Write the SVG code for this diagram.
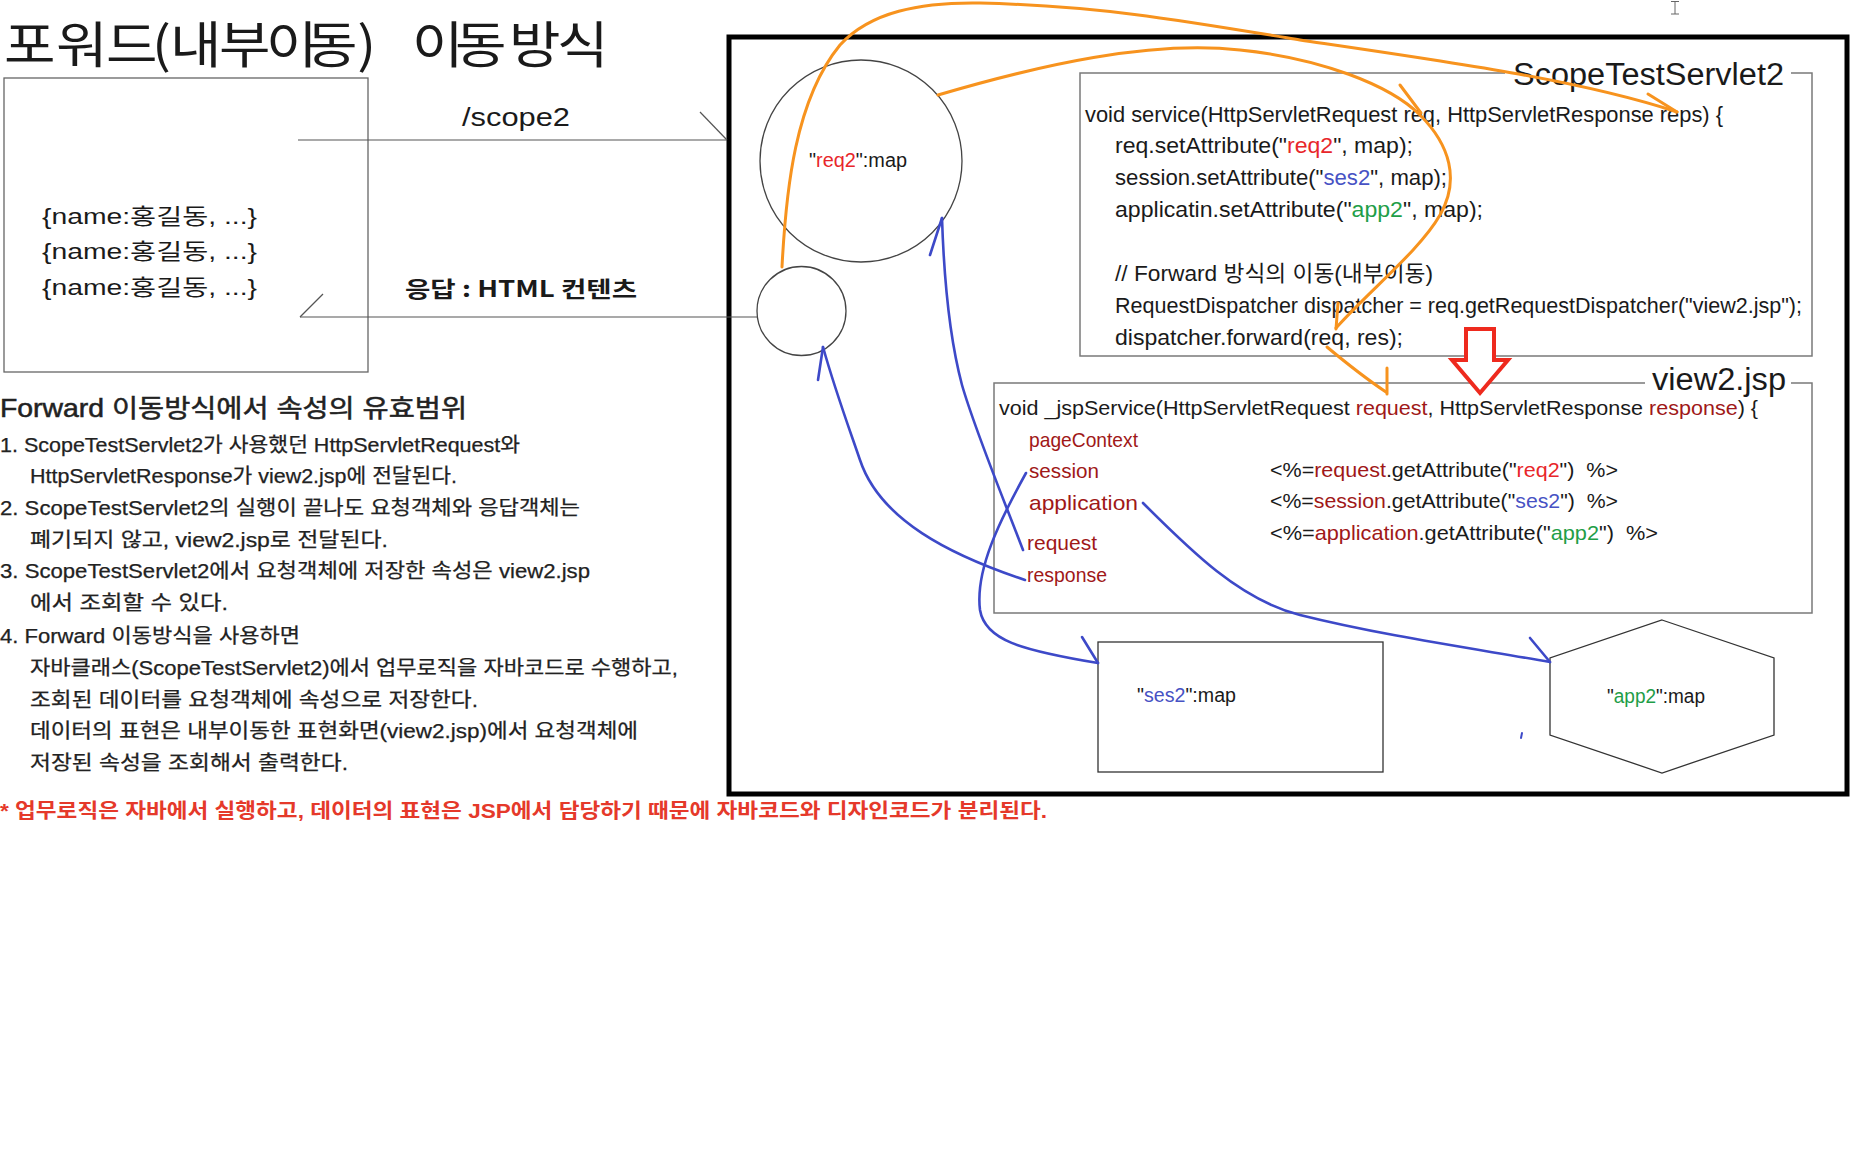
<svg xmlns="http://www.w3.org/2000/svg" width="1857" height="1168" viewBox="0 0 1857 1168">
<style>
.bg{fill:#ffffff}
.frame{fill:none;stroke:#000;stroke-width:5}
.box{fill:none;stroke:#7a7a7a;stroke-width:1.5}
.shape{fill:none;stroke:#444;stroke-width:1.3}
.thin{fill:none;stroke:#555;stroke-width:1.2}
.txt{font-family:"Liberation Sans","Noto Sans CJK KR",sans-serif;fill:#1a1a1a}
.kr{font-family:"Noto Sans CJK KR","Liberation Sans",sans-serif;fill:#1a1a1a}
.c22{font-size:22px}
.c21{font-size:21px}
.c20{font-size:20px}
.dr{fill:#a01818}
.rd{fill:#e8262a}
.bl{fill:#4752c4}
.gr{fill:#1f9e48}
.or{fill:none;stroke:#f7931e;stroke-width:3;stroke-linecap:round;stroke-linejoin:round}
.bu{fill:none;stroke:#3d49c8;stroke-width:2.6;stroke-linecap:round;stroke-linejoin:round}
.note{font-family:"Liberation Sans","Noto Sans CJK KR",sans-serif;font-size:20px;fill:#222;stroke:#222;stroke-width:0.25}
</style>
<rect class="bg" x="0" y="0" width="1857" height="1168"/>

<g id="title">
<text class="kr" font-size="50" y="63" transform="matrix(1.12 0 0 1 0 0)" x="3.6 50 94.6 135.7 151.8 195.5 237.5 273.2 319 343.8 367.9 406.3 454.5 497.3">포워드(내부이동) 이동방식</text>
</g>

<g id="client">
<rect class="shape" x="4" y="78" width="364" height="294" style="stroke:#666"/>
<text class="txt c22" x="42" y="224" textLength="215" lengthAdjust="spacingAndGlyphs">{name:홍길동, ...}</text>
<text class="txt c22" x="42" y="259" textLength="215" lengthAdjust="spacingAndGlyphs">{name:홍길동, ...}</text>
<text class="txt c22" x="42" y="295" textLength="215" lengthAdjust="spacingAndGlyphs">{name:홍길동, ...}</text>
</g>

<g id="container">
<rect class="frame" x="729" y="37" width="1118" height="757"/>
</g>

<g id="req2-map">
<circle class="shape" cx="861" cy="161" r="101"/>
<text class="txt c20" x="809" y="167" textLength="98" lengthAdjust="spacingAndGlyphs">"<tspan class="rd">req2</tspan>":map</text>
</g>

<g id="request-response-object">
<circle class="shape" cx="801.5" cy="311" r="44.5"/>
</g>

<g id="servlet">
<path class="box" d="M1505,73 H1080 V356 H1812 V73 H1791"/>
<text class="txt" font-size="31" x="1513" y="85" textLength="271" lengthAdjust="spacingAndGlyphs">ScopeTestServlet2</text>
<text class="txt c22" x="1085" y="122" textLength="638" lengthAdjust="spacingAndGlyphs">void service(HttpServletRequest req, HttpServletResponse reps) {</text>
<text class="txt c22" x="1115" y="153" textLength="298" lengthAdjust="spacingAndGlyphs">req.setAttribute("<tspan class="rd">req2</tspan>", map);</text>
<text class="txt c22" x="1115" y="185" textLength="332" lengthAdjust="spacingAndGlyphs">session.setAttribute("<tspan class="bl">ses2</tspan>", map);</text>
<text class="txt c22" x="1115" y="217" textLength="368" lengthAdjust="spacingAndGlyphs">applicatin.setAttribute("<tspan class="gr">app2</tspan>", map);</text>
<text class="txt c22" x="1115" y="281" textLength="318" lengthAdjust="spacingAndGlyphs">// Forward 방식의 이동(내부이동)</text>
<text class="txt c22" x="1115" y="313" textLength="687" lengthAdjust="spacingAndGlyphs">RequestDispatcher dispatcher = req.getRequestDispatcher("view2.jsp");</text>
<text class="txt c22" x="1115" y="345" textLength="288" lengthAdjust="spacingAndGlyphs">dispatcher.forward(req, res);</text>
</g>

<g id="jsp">
<path class="box" d="M1645,383 H994 V613 H1812 V383 H1791"/>
<text class="txt" font-size="31" x="1652" y="390" textLength="134" lengthAdjust="spacingAndGlyphs">view2.jsp</text>
<text class="txt c21" x="999" y="415" textLength="759" lengthAdjust="spacingAndGlyphs">void _jspService(HttpServletRequest <tspan class="dr">request</tspan>, HttpServletResponse <tspan class="dr">response</tspan>) {</text>
<text class="txt c21 dr" x="1029" y="447" textLength="109" lengthAdjust="spacingAndGlyphs">pageContext</text>
<text class="txt c21 dr" x="1029" y="478" textLength="70" lengthAdjust="spacingAndGlyphs">session</text>
<text class="txt c21 dr" x="1029" y="510" textLength="109" lengthAdjust="spacingAndGlyphs">application</text>
<text class="txt c21 dr" x="1027" y="550" textLength="70" lengthAdjust="spacingAndGlyphs">request</text>
<text class="txt c21 dr" x="1027" y="582" textLength="80" lengthAdjust="spacingAndGlyphs">response</text>
<text class="txt c21" xml:space="preserve" x="1270" y="477" textLength="348" lengthAdjust="spacingAndGlyphs">&lt;%=<tspan class="dr">request</tspan>.getAttribute("<tspan class="rd">req2</tspan>")  %&gt;</text>
<text class="txt c21" xml:space="preserve" x="1270" y="508" textLength="348" lengthAdjust="spacingAndGlyphs">&lt;%=<tspan class="dr">session</tspan>.getAttribute("<tspan class="bl">ses2</tspan>")  %&gt;</text>
<text class="txt c21" xml:space="preserve" x="1270" y="540" textLength="388" lengthAdjust="spacingAndGlyphs">&lt;%=<tspan class="dr">application</tspan>.getAttribute("<tspan class="gr">app2</tspan>")  %&gt;</text>
</g>

<g id="ses2-map">
<rect class="shape" x="1098" y="642" width="285" height="130" style="stroke:#333"/>
<text class="txt c20" x="1137" y="702" textLength="99" lengthAdjust="spacingAndGlyphs">"<tspan class="bl">ses2</tspan>":map</text>
</g>

<g id="app2-map">
<polygon class="shape" points="1662,620 1774,658 1774,735 1662,773 1550,735 1550,658" style="stroke:#333"/>
<text class="txt c20" x="1607" y="703" textLength="98" lengthAdjust="spacingAndGlyphs">"<tspan class="gr">app2</tspan>":map</text>
</g>

<g id="notes">
<text class="note" x="0" y="417" textLength="467" lengthAdjust="spacingAndGlyphs" style="font-size:25px;stroke-width:0.5">Forward 이동방식에서 속성의 유효범위</text>
<text class="note" x="0" y="452" textLength="520" lengthAdjust="spacingAndGlyphs">1. ScopeTestServlet2가 사용했던 HttpServletRequest와</text>
<text class="note" x="30" y="483" textLength="427" lengthAdjust="spacingAndGlyphs">HttpServletResponse가 view2.jsp에 전달된다.</text>
<text class="note" x="0" y="515" textLength="580" lengthAdjust="spacingAndGlyphs">2. ScopeTestServlet2의 실행이 끝나도 요청객체와 응답객체는</text>
<text class="note" x="30" y="547" textLength="358" lengthAdjust="spacingAndGlyphs">폐기되지 않고, view2.jsp로 전달된다.</text>
<text class="note" x="0" y="578" textLength="590" lengthAdjust="spacingAndGlyphs">3. ScopeTestServlet2에서 요청객체에 저장한 속성은 view2.jsp</text>
<text class="note" x="30" y="610" textLength="198" lengthAdjust="spacingAndGlyphs">에서 조회할 수 있다.</text>
<text class="note" x="0" y="643" textLength="300" lengthAdjust="spacingAndGlyphs">4. Forward 이동방식을 사용하면</text>
<text class="note" x="30" y="675" textLength="648" lengthAdjust="spacingAndGlyphs">자바클래스(ScopeTestServlet2)에서 업무로직을 자바코드로 수행하고,</text>
<text class="note" x="30" y="707" textLength="448" lengthAdjust="spacingAndGlyphs">조회된 데이터를 요청객체에 속성으로 저장한다.</text>
<text class="note" x="30" y="738" textLength="608" lengthAdjust="spacingAndGlyphs">데이터의 표현은 내부이동한 표현화면(view2.jsp)에서 요청객체에</text>
<text class="note" x="30" y="770" textLength="318" lengthAdjust="spacingAndGlyphs">저장된 속성을 조회해서 출력한다.</text>
<text class="note" x="0" y="818" textLength="1047" lengthAdjust="spacingAndGlyphs" style="fill:#e5392a;stroke:none;font-weight:bold">* 업무로직은 자바에서 실행하고, 데이터의 표현은 JSP에서 담당하기 때문에 자바코드와 디자인코드가 분리된다.</text>
</g>

<g id="connectors">
<path class="thin" d="M298,140 H727"/>
<path class="thin" d="M700,112 L727,140"/>
<text class="txt" font-size="26" x="462" y="126" textLength="108" lengthAdjust="spacingAndGlyphs">/scope2</text>
<path class="thin" d="M757,317 H300"/>
<path class="thin" d="M300,317 L323,294"/>
<text class="kr" font-size="22" font-weight="bold" x="405" y="297" textLength="232" lengthAdjust="spacingAndGlyphs">응답 : HTML 컨텐츠</text>

<path class="or" d="M782,267 C786,190 795,100 840,45 C870,12 920,2 980,3 C1100,6 1180,20 1300,40 C1450,62 1580,80 1677,112"/>
<path class="or" d="M1648,94 L1677,112"/>
<path class="or" d="M938,95 C1040,65 1150,40 1240,50 C1320,58 1390,85 1420,115 C1450,145 1460,180 1440,215 C1420,250 1370,290 1336,328"/>
<path class="or" d="M1400,85 L1421,113"/>
<path class="or" d="M1338,303 L1336,329"/>
<path class="or" d="M1327,347 C1345,362 1365,378 1386,392"/>
<path class="or" d="M1387,368 L1387,394"/>

<polygon points="1466,329 1494,329 1494,360 1508,360 1480,393 1452,360 1466,360" fill="#ffffff" stroke="#ee2a1e" stroke-width="4" stroke-linejoin="miter"/>

<path class="bu" d="M1025,580 C950,555 880,520 860,460 C848,425 835,390 823,347"/>
<path class="bu" d="M818,380 L823,347"/>
<path class="bu" d="M1023,550 C1000,490 975,430 962,385 C950,340 944,280 942,218"/>
<path class="bu" d="M930,255 L942,218"/>
<path class="bu" d="M1026,473 C1000,520 975,570 980,610 C985,640 1020,650 1098,663"/>
<path class="bu" d="M1082,637 L1098,663"/>
<path class="bu" d="M1143,503 C1190,550 1240,600 1300,615 C1380,635 1470,648 1550,662"/>
<path class="bu" d="M1530,638 L1550,662"/>
</g>

<path d="M1522,733 L1521,738" stroke="#3d49c8" stroke-width="2" stroke-linecap="round"/>
<path d="M1671,1.5 H1679 M1675,1.5 V14 M1671,14 H1679" stroke="#666" stroke-width="1" fill="none"/>
</svg>
